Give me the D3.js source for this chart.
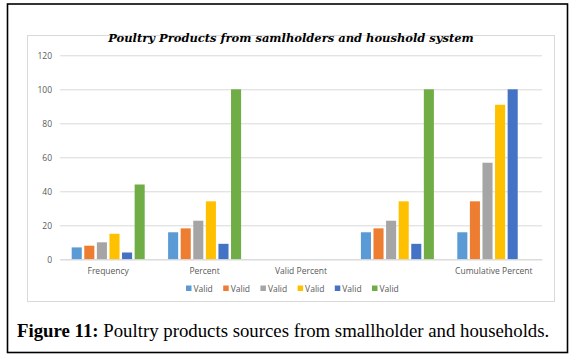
<!doctype html>
<html>
  <head>
    <meta charset="utf-8">
    <title>Poultry Products</title>
    <script src="https://cdn.jsdelivr.net/npm/d3@7/dist/d3.min.js"></script>
    <style>
      body { margin: 0; background: #fff; }
    </style>
  </head>
  <body>
    <script>
      // categories on the x axis (4th one has no label in the source)
      const categories = ['Frequency', 'Percent', 'Valid Percent', '', 'Cumulative Percent'];
      const seriesNames = ['Valid', 'Valid', 'Valid', 'Valid', 'Valid', 'Valid'];
      const colors = ['#5B9BD5', '#ED7D31', '#A5A5A5', '#FFC000', '#4472C4', '#70AD47'];
      // one array per category, one value per series (null = no bar)
      const frequency = [7, 8, 10, 15, 4, 44];
      const percent = [15.9, 18.2, 22.7, 34.1, 9.1, 100];
      const validPercent = [null, null, null, null, null, null];
      const unnamed = [15.9, 18.2, 22.7, 34.1, 9.1, 100];
      const cumulative = [15.9, 34.1, 56.8, 90.9, 100, null];
      const yTicks = [0, 20, 40, 60, 80, 100, 120];

      const values = [frequency, percent, validPercent, unnamed, cumulative];

      const width = 577;
      const height = 358;

      const svg = d3.select('body').append('svg')
          .attr('width', width)
          .attr('height', height);

      // outer black frame
      svg.append('rect')
          .attr('x', 7.5).attr('y', 4)
          .attr('width', 560).attr('height', 348.5)
          .attr('fill', 'none')
          .attr('stroke', '#000')
          .attr('stroke-width', 1.6);

      // chart area frame
      svg.append('rect')
          .attr('x', 27.5).attr('y', 35.5)
          .attr('width', 527).attr('height', 266)
          .attr('fill', '#fff')
          .attr('stroke', '#d9d9d9');

      svg.append('text')
          .attr('x', 291).attr('y', 42)
          .attr('text-anchor', 'middle')
          .attr('font-family', 'DejaVu Serif')
          .attr('font-size', 11.5)
          .attr('font-weight', 'bold')
          .attr('font-style', 'italic')
          .text('Poultry Products from samlholders and houshold system');

      const plot = {left: 60, right: 542, top: 55.3, bottom: 259.3};

      const x0 = d3.scaleBand()
          .domain(d3.range(categories.length))
          .range([plot.left, plot.right]);
      const inset = 11.7;
      const x1 = d3.scaleBand()
          .domain(d3.range(seriesNames.length))
          .range([inset, x0.bandwidth() - inset])
          .paddingInner(0.2);
      const y = d3.scaleLinear()
          .domain([0, 120])
          .range([plot.bottom, plot.top]);

      const gy = svg.append('g')
          .attr('transform', `translate(${plot.left},0)`)
          .call(d3.axisLeft(y).tickValues(yTicks)
              .tickSize(-(plot.right - plot.left)).tickPadding(8));
      gy.select('.domain').remove();
      gy.selectAll('.tick line').attr('stroke', '#d9d9d9');
      gy.selectAll('.tick text')
          .attr('fill', '#595959')
          .attr('font-family', 'Open Sans')
          .attr('font-size', 8.5);

      const groups = svg.append('g').selectAll('g')
        .data(values)
        .join('g')
          .attr('transform', (d, i) => `translate(${x0(i)},0)`);
      groups.selectAll('rect')
        .data(d => d.map((v, j) => ({v, j})).filter(e => e.v !== null))
        .join('rect')
          .attr('x', d => x1(d.j))
          .attr('width', x1.bandwidth())
          .attr('y', d => y(d.v))
          .attr('height', d => y(0) - y(d.v))
          .attr('fill', d => colors[d.j]);

      const gx = svg.append('g')
          .attr('transform', `translate(0,${plot.bottom})`)
          .call(d3.axisBottom(x0).tickFormat(i => categories[i]).tickSize(0).tickPadding(9));
      gx.select('.domain').attr('stroke', '#d9d9d9');
      gx.selectAll('.tick text')
          .attr('fill', '#595959')
          .attr('font-family', 'Open Sans')
          .attr('font-size', 8.5);

      // legend
      const legend = svg.append('g').selectAll('g')
        .data(seriesNames)
        .join('g')
          .attr('transform', (d, i) => `translate(${186 + i * 37.2},288.5)`);
      legend.append('rect')
          .attr('x', 0).attr('y', -3)
          .attr('width', 5.5).attr('height', 5.5)
          .attr('fill', (d, i) => colors[i]);
      legend.append('text')
          .attr('x', 7.5).attr('y', 3)
          .attr('fill', '#595959')
          .attr('font-family', 'Open Sans')
          .attr('font-size', 8.5)
          .text(d => d);

      const caption = svg.append('text')
          .attr('x', 17).attr('y', 337)
          .attr('font-family', 'Liberation Serif')
          .attr('font-size', 18.8);
      caption.append('tspan').attr('font-weight', 'bold').text('Figure 11:');
      caption.append('tspan').text(' Poultry products sources from smallholder and households.');
    </script>
  </body>
</html>
